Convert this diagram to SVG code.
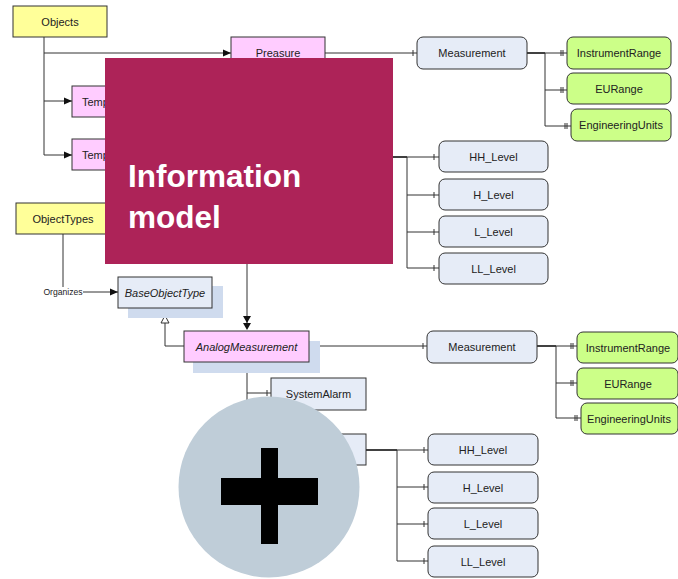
<svg xmlns="http://www.w3.org/2000/svg" width="678" height="579" viewBox="0 0 678 579">
  <defs>
    <marker id="arrow" viewBox="0 0 8 8" refX="8" refY="4" markerWidth="8" markerHeight="8" markerUnits="userSpaceOnUse" orient="auto">
      <path d="M0,0.5 L8,4 L0,7.5 Z" fill="#111"/>
    </marker>
    <style>
      .lbl { font-family: "Liberation Sans", Arial, sans-serif; font-size: 11px; fill: #222; text-anchor: middle; dominant-baseline: central; }
      .it { font-style: italic; }
      .obj { fill: #ffff99; stroke: #333; stroke-width: 1; }
      .inst { fill: #ffccff; stroke: #333; stroke-width: 1; }
      .var { fill: #e6ecf7; stroke: #333; stroke-width: 1; }
      .prop { fill: #ccff88; stroke: #333; stroke-width: 1; }
      .shadow { fill: #cfdbee; }
      .wire { fill: none; stroke: #333; stroke-width: 1; }
      .trunk { fill: none; stroke: #111; stroke-width: 1.6; }
      .tick { stroke: #333; stroke-width: 1; }
      .title { font-family: "Liberation Sans", Arial, sans-serif; font-size: 31.5px; font-weight: bold; fill: #ffffff; }
    </style>
  </defs>
  <rect width="678" height="579" fill="#ffffff"/>

  <!-- connectors -->
  <g id="connectors">
    <!-- Objects organizes its instances -->
    <path class="wire" d="M44,37 V155"/>
    <path class="wire" d="M44,53 H231" marker-end="url(#arrow)"/>
    <path class="wire" d="M44,101 H72" marker-end="url(#arrow)"/>
    <path class="wire" d="M44,155 H72" marker-end="url(#arrow)"/>

    <!-- Preasure -> Measurement -->
    <path class="wire" d="M325,53 H417"/>
    <line class="tick" x1="413" y1="50" x2="413" y2="56"/>

    <!-- Measurement -> properties (top) -->
    <path class="trunk" d="M527,53 H545"/>
    <path class="wire" d="M545,53 V126 M545,53 H567 M545,90 H567 M545,126 H571"/>
    <path class="tick" d="M561,50 V56 M563,50 V56 M561,87 V93 M563,87 V93 M565,123 V129 M567,123 V129"/>

    <!-- levels (top) -->
    <path class="trunk" d="M393,157 H407"/>
    <path class="wire" d="M407,157 V268 M407,157 H439 M407,195 H439 M407,232 H439 M407,268 H439"/>
    <path class="tick" d="M434,154 V160 M434,192 V198 M434,229 V235 M434,265 V271"/>

    <!-- ObjectTypes organizes BaseObjectType -->
    <path class="wire" d="M63,234 V287"/>
    <path class="wire" d="M83,292 H118" marker-end="url(#arrow)"/>

    <!-- type definition into AnalogMeasurement -->
    <path class="wire" d="M247,264 V324"/>
    <path d="M243,316 L251,316 L247,323 Z M243,323 L251,323 L247,330 Z" fill="#111"/>

    <!-- inheritance AnalogMeasurement -> BaseObjectType -->
    <path class="wire" d="M184,346 H165 V323"/>
    <path d="M165,308 L169,315.5 L161,315.5 Z M165,315.5 L169,323 L161,323 Z" fill="#fff" stroke="#333" stroke-width="1"/>

    <!-- AnalogMeasurement -> Measurement (bottom) -->
    <path class="wire" d="M309,346 H427"/>
    <line class="tick" x1="423" y1="343" x2="423" y2="349"/>

    <!-- Measurement -> properties (bottom) -->
    <path class="trunk" d="M537,346 H556"/>
    <path class="wire" d="M556,346 V418 M556,346 H577 M556,383 H577 M556,418 H581"/>
    <path class="tick" d="M571,343 V349 M573,343 V349 M571,380 V386 M573,380 V386 M575,415 V421 M577,415 V421"/>

    <!-- AnalogMeasurement components -->
    <path class="wire" d="M247,362 V450 M247,393 H271 M247,450 H271"/>
    <line class="tick" x1="267" y1="390" x2="267" y2="396"/>

    <!-- levels (bottom) -->
    <path class="trunk" d="M366,450 H397"/>
    <path class="wire" d="M397,450 V561 M397,450 H428 M397,487 H428 M397,524 H428 M397,561 H428"/>
    <path class="tick" d="M424,447 V453 M424,484 V490 M424,521 V527 M424,558 V564"/>
  </g>

  <!-- instance nodes -->
  <g id="objects">
    <rect class="obj" x="13" y="6" width="94" height="31"/>
    <text class="lbl" x="60" y="21.5">Objects</text>
  </g>
  <g id="preasure">
    <rect class="inst" x="231" y="37" width="94" height="31"/>
    <text class="lbl" x="278" y="53">Preasure</text>
  </g>
  <g id="temp1">
    <rect class="inst" x="72" y="86" width="94" height="31"/>
    <text class="lbl" x="82" y="101.5" style="text-anchor:start">Temp</text>
  </g>
  <g id="temp2">
    <rect class="inst" x="72" y="139" width="94" height="31"/>
    <text class="lbl" x="82" y="154.5" style="text-anchor:start">Temp</text>
  </g>
  <g id="measurement-top">
    <rect class="var" x="417" y="37" width="110" height="32" rx="6"/>
    <text class="lbl" x="472" y="53">Measurement</text>
  </g>
  <g id="instrumentrange-top">
    <rect class="prop" x="567" y="37" width="104" height="32" rx="6"/>
    <text class="lbl" x="619" y="53">InstrumentRange</text>
  </g>
  <g id="eurange-top">
    <rect class="prop" x="567" y="73" width="104" height="31" rx="6"/>
    <text class="lbl" x="619" y="89">EURange</text>
  </g>
  <g id="engineeringunits-top">
    <rect class="prop" x="571" y="109" width="100" height="32" rx="6"/>
    <text class="lbl" x="621" y="125">EngineeringUnits</text>
  </g>
  <g id="hh-top">
    <rect class="var" x="439" y="141" width="109" height="31" rx="6"/>
    <text class="lbl" x="493.5" y="156.5">HH_Level</text>
  </g>
  <g id="h-top">
    <rect class="var" x="439" y="179" width="109" height="31" rx="6"/>
    <text class="lbl" x="493.5" y="194.5">H_Level</text>
  </g>
  <g id="l-top">
    <rect class="var" x="439" y="216" width="109" height="31" rx="6"/>
    <text class="lbl" x="493.5" y="231.5">L_Level</text>
  </g>
  <g id="ll-top">
    <rect class="var" x="439" y="253" width="109" height="31" rx="6"/>
    <text class="lbl" x="493.5" y="268.5">LL_Level</text>
  </g>

  <!-- type nodes -->
  <g id="objecttypes">
    <rect class="obj" x="16" y="203" width="94" height="31"/>
    <text class="lbl" x="63" y="218.5">ObjectTypes</text>
  </g>
  <text x="63" y="292" style="font-family:'Liberation Sans',Arial,sans-serif;font-size:8.6px;fill:#222;text-anchor:middle;dominant-baseline:central">Organizes</text>
  <g id="baseobjecttype">
    <rect class="shadow" x="128" y="286" width="95" height="32"/>
    <rect class="var" x="118" y="277" width="94" height="31"/>
    <text class="lbl it" x="165" y="292.5">BaseObjectType</text>
  </g>
  <g id="analogmeasurement">
    <rect class="shadow" x="193" y="341" width="127" height="32"/>
    <rect class="inst" x="184" y="331" width="125" height="31"/>
    <text class="lbl it" x="246.5" y="346.5">AnalogMeasurement</text>
  </g>
  <g id="systemalarm">
    <rect class="var" x="271" y="378" width="95" height="32"/>
    <text class="lbl" x="318.5" y="394">SystemAlarm</text>
  </g>
  <g id="limits">
    <rect class="var" x="271" y="434" width="95" height="31"/>
  </g>
  <g id="measurement-bottom">
    <rect class="var" x="427" y="331" width="110" height="32" rx="6"/>
    <text class="lbl" x="482" y="347">Measurement</text>
  </g>
  <g id="instrumentrange-bottom">
    <rect class="prop" x="577" y="332" width="101" height="31" rx="6"/>
    <text class="lbl" x="628" y="347.5">InstrumentRange</text>
  </g>
  <g id="eurange-bottom">
    <rect class="prop" x="577" y="368" width="101" height="31" rx="6"/>
    <text class="lbl" x="628" y="383.5">EURange</text>
  </g>
  <g id="engineeringunits-bottom">
    <rect class="prop" x="581" y="403" width="97" height="31" rx="6"/>
    <text class="lbl" x="629" y="418.5">EngineeringUnits</text>
  </g>
  <g id="hh-bottom">
    <rect class="var" x="428" y="434" width="110" height="31" rx="6"/>
    <text class="lbl" x="483" y="449.5">HH_Level</text>
  </g>
  <g id="h-bottom">
    <rect class="var" x="428" y="472" width="110" height="31" rx="6"/>
    <text class="lbl" x="483" y="487.5">H_Level</text>
  </g>
  <g id="l-bottom">
    <rect class="var" x="428" y="508" width="110" height="31" rx="6"/>
    <text class="lbl" x="483" y="523.5">L_Level</text>
  </g>
  <g id="ll-bottom">
    <rect class="var" x="428" y="546" width="110" height="31" rx="6"/>
    <text class="lbl" x="483" y="561.5">LL_Level</text>
  </g>

  <!-- title panel -->
  <g id="title">
    <rect x="105" y="58" width="288" height="206" fill="#ad2358"/>
    <text class="title" x="128" y="187">Information</text>
    <text class="title" x="128" y="228">model</text>
  </g>

  <!-- expand button -->
  <g id="expand">
    <circle cx="269" cy="487" r="90.5" fill="#bfcdd8"/>
    <rect x="261" y="448" width="17" height="96" fill="#000"/>
    <rect x="221" y="478" width="97" height="27" fill="#000"/>
  </g>
</svg>
